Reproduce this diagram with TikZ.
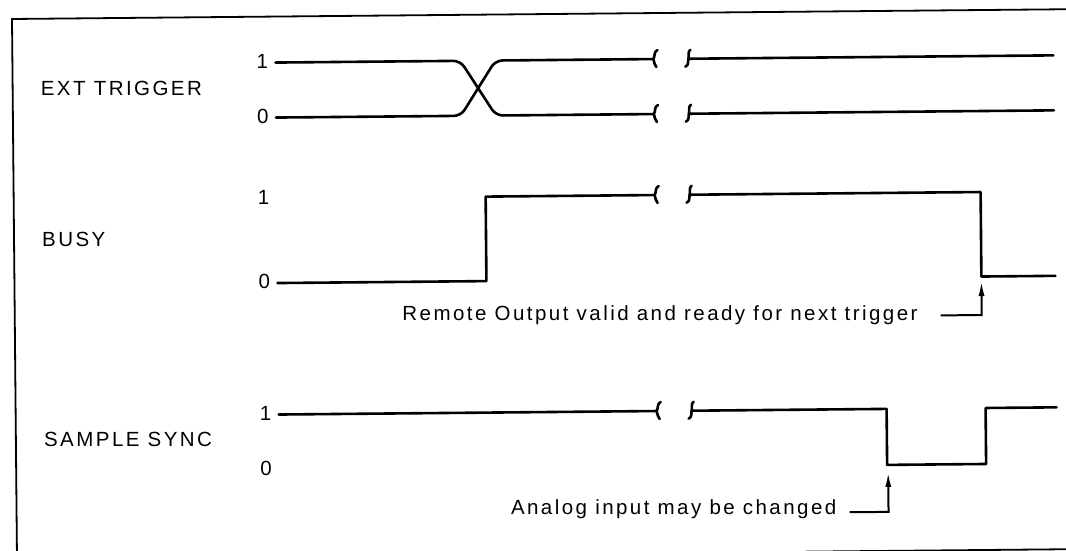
\documentclass[tikz,border=0pt]{standalone}
\usepackage{fontspec}
\setmainfont{Liberation Sans}[LetterSpace=12]
\usetikzlibrary{arrows.meta}
\begin{document}
\begin{tikzpicture}[x=1pt,y=1pt,
  sig/.style={line width=2.6pt, line join=round, line cap=round},
  frm/.style={line width=1.8pt},
  arr/.style={line width=2pt, -{Latex[length=15pt,width=6pt]}},
  txt/.style={font=\fontsize{20.5}{24}\selectfont, inner sep=0pt},
  brkl/.pic={\draw[sig] (4,9) .. controls (0,7) and (2,3) .. (0,0) .. controls (2,-3) and (0,-6) .. (3,-8);},
  brkr/.pic={\draw[sig] (2,9) .. controls (-1,7) and (1,3) .. (0,0) .. controls (-1,-3) and (1,-6) .. (-3,-8);}]
\useasboundingbox (0,0) rectangle (1066,551);
\begin{scope}[rotate around={0.53:(12,532)}]
% frame
\draw[frm] (12,-12) -- (12,532) -- (1090,532);
\draw[frm] (800,-8) -- (1090,-8);
% labels
\node[txt, anchor=west] (lext) at (40,462) {EXT TRIGGER};
\node[txt, anchor=west] (lbusy) at (40,311) {BUSY};
\node[txt, anchor=west] (lss) at (40,111) {SAMPLE SYNC};
\node[txt] (e1) at (262,487) {1};
\node[txt] (e0) at (262,432) {0};
\node[txt] (b1) at (262,351) {1};
\node[txt] (b0) at (262,267) {0};
\node[txt] (s1) at (262,135) {1};
\node[txt] (s0) at (262,80) {0};
% EXT TRIGGER
\draw[sig, rounded corners=7pt] (275,486) -- (460,486) -- (495,431) -- (653,431);
\draw[sig, rounded corners=7pt] (275,431) -- (460,431) -- (495,486) -- (653,486);
\pic at (653,486) {brkl};
\pic at (653,431) {brkl};
\pic at (688,486) {brkr};
\pic at (688,431) {brkr};
\draw[sig] (688,486) -- (1053,486);
\draw[sig] (688,431) -- (1053,431);
% BUSY
\draw[sig] (275,265.5) -- (484,265.5) -- (484,350) -- (653,350);
\pic at (653,350) {brkl};
\pic at (688,350) {brkr};
\draw[sig] (688,350) -- (979,350) -- (979,265.5) -- (1053,265.5);
% SAMPLE SYNC
\draw[sig] (275,134) -- (653,134);
\pic at (653,134) {brkl};
\pic at (688,134) {brkr};
\draw[sig] (688,134) -- (883,134) -- (883,78) -- (982,78) -- (982,134) -- (1053,134);
% annotations
\node[txt, anchor=base east] (rem) at (915,222) {Remote Output valid and ready for next trigger};
\coordinate (ra) at (938,227);
\coordinate (rt) at (979,261);
\draw[arr] (ra) -| (rt);
\node[txt, anchor=base east] (ana) at (832,28.5) {Analog input may be changed};
\coordinate (aa) at (845,31);
\coordinate (at) at (884,71);
\draw[arr] (aa) -| (at);
\end{scope}
\end{tikzpicture}
\end{document}
